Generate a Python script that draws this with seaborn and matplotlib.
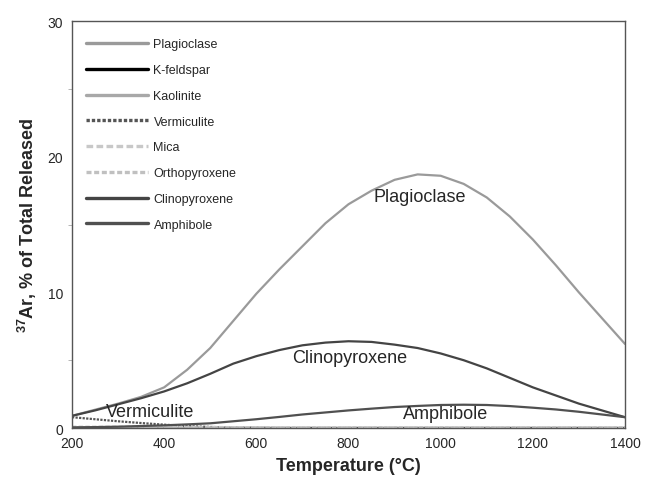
import numpy as np
import pandas as pd
import seaborn as sns
import matplotlib
matplotlib.use("Agg")
import matplotlib.pyplot as plt
from matplotlib.ticker import MultipleLocator

temps = [200, 250, 300, 350, 400, 450, 500, 550, 600, 650, 700, 750, 800,
         850, 900, 950, 1000, 1050, 1100, 1150, 1200, 1250, 1300, 1350, 1400]
plagioclase   = [0.9, 1.35, 1.8, 2.3, 3.0, 4.3, 5.9, 7.9, 9.9, 11.7, 13.4, 15.1, 16.5,
                 17.5, 18.3, 18.7, 18.6, 18.0, 17.0, 15.6, 13.9, 12.0, 10.0, 8.1, 6.2]
k_feldspar    = [0.0] * 25
kaolinite     = [0.0] * 25
vermiculite   = [0.8, 0.65, 0.5, 0.37, 0.25, 0.15, 0.08, 0.04, 0.02, 0.0, 0.0, 0.0, 0.0,
                 0.0, 0.0, 0.0, 0.0, 0.0, 0.0, 0.0, 0.0, 0.0, 0.0, 0.0, 0.0]
mica          = [0.1, 0.1, 0.1, 0.1, 0.1, 0.09, 0.08, 0.07, 0.06, 0.05, 0.05, 0.05, 0.05,
                 0.05, 0.05, 0.05, 0.05, 0.05, 0.05, 0.05, 0.05, 0.05, 0.05, 0.05, 0.05]
orthopyroxene = [0.05, 0.05, 0.05, 0.05, 0.05, 0.05, 0.05, 0.04, 0.04, 0.04, 0.04, 0.04, 0.04,
                 0.04, 0.04, 0.04, 0.04, 0.04, 0.04, 0.04, 0.04, 0.04, 0.04, 0.04, 0.04]
clinopyroxene = [0.9, 1.3, 1.75, 2.2, 2.7, 3.3, 4.0, 4.75, 5.3, 5.75, 6.1, 6.3, 6.4,
                 6.35, 6.15, 5.9, 5.5, 5.0, 4.4, 3.7, 3.0, 2.4, 1.8, 1.3, 0.8]
amphibole     = [0.05, 0.07, 0.1, 0.15, 0.2, 0.27, 0.35, 0.5, 0.65, 0.82, 1.0, 1.15, 1.3,
                 1.43, 1.55, 1.63, 1.7, 1.72, 1.7, 1.62, 1.5, 1.37, 1.2, 1.0, 0.8]

series = {
    "Plagioclase": plagioclase,
    "K-feldspar": k_feldspar,
    "Kaolinite": kaolinite,
    "Vermiculite": vermiculite,
    "Mica": mica,
    "Orthopyroxene": orthopyroxene,
    "Clinopyroxene": clinopyroxene,
    "Amphibole": amphibole,
}
styles = {
    "Plagioclase": dict(color="#9a9a9a", ls="-", lw=1.6),
    "K-feldspar": dict(color="#000000", ls="-", lw=1.6),
    "Kaolinite": dict(color="#a8a8a8", ls="-", lw=1.6),
    "Vermiculite": dict(color="#555555", ls=(0, (1, 0.6)), lw=1.6),
    "Mica": dict(color="#c8c8c8", ls=(0, (2, 1)), lw=1.6),
    "Orthopyroxene": dict(color="#c0c0c0", ls=(0, (1.5, 0.8)), lw=1.6),
    "Clinopyroxene": dict(color="#444444", ls="-", lw=1.6),
    "Amphibole": dict(color="#505050", ls="-", lw=1.6),
}

df = pd.DataFrame({"T": temps, **series}).melt("T", var_name="mineral", value_name="v")

sns.set_style("white")
plt.rcParams['font.family'] = ['Liberation Sans', 'DejaVu Sans']
plt.rcParams['mathtext.fontset'] = 'custom'
plt.rcParams['mathtext.rm'] = 'Liberation Sans'
plt.rcParams['mathtext.bf'] = 'Liberation Sans:bold'

fig = plt.figure(figsize=(6.45, 4.81), dpi=100)
ax = fig.add_axes([0.1116, 0.108, 0.8574, 0.846])

for name in series:
    sub = df[df["mineral"] == name]
    st = styles[name]
    sns.lineplot(data=sub, x="T", y="v", ax=ax, color=st["color"], linestyle=st["ls"],
                 linewidth=st["lw"], label=name)

ax.set_xlim(200, 1400)
ax.set_ylim(0, 30)
ax.set_xticks(range(200, 1401, 200))
ax.set_yticks([0, 10, 20, 30])
ax.yaxis.set_minor_locator(MultipleLocator(5))
ax.tick_params(axis="both", which="major", labelsize=10, length=3, color="#888888", direction="out")
ax.tick_params(axis="y", which="minor", length=3, color="#aaaaaa", left=True)
ax.tick_params(axis="x", which="major", direction="inout", length=4)
for s in ax.spines.values():
    s.set_color("#555555")
    s.set_linewidth(1.0)

ax.set_xlabel("Temperature (°C)", fontsize=13, fontweight="bold", labelpad=5)
ax.set_ylabel(r"$\mathbf{^{37}}$Ar, % of Total Released", fontsize=13, fontweight="bold", labelpad=6)

leg = ax.legend(loc="upper left", frameon=False, fontsize=9, handlelength=5.0,
                handletextpad=0.4, labelspacing=1.1, bbox_to_anchor=(0.005, 0.985))
for line in leg.get_lines():
    line.set_linewidth(2.4)

ax.text(955, 17.1, "Plagioclase", fontsize=13, ha="center", va="center")
ax.text(803, 5.2, "Clinopyroxene", fontsize=13, ha="center", va="center")
ax.text(370, 1.2, "Vermiculite", fontsize=13, ha="center", va="center")
ax.text(1010, 1.1, "Amphibole", fontsize=13, ha="center", va="center")

fig.savefig("out.png", dpi=100)
